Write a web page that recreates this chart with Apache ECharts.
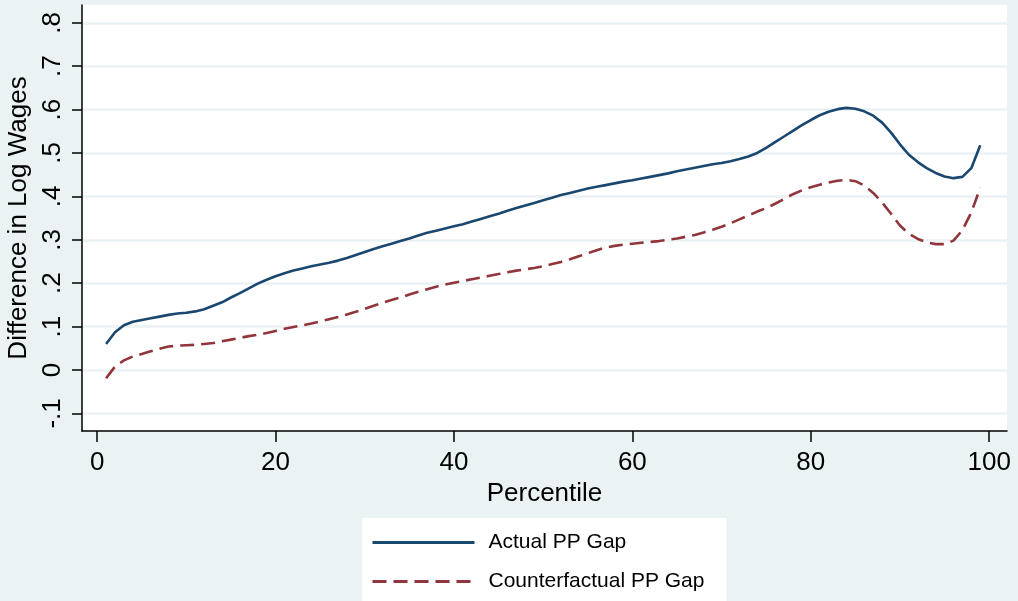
<!DOCTYPE html>
<html>
<head>
<meta charset="utf-8">
<script src="https://cdn.jsdelivr.net/npm/echarts@6/dist/echarts.min.js"></script>
<style>
html,body{margin:0;padding:0;background:#EAF2F3;}
#c{width:1018px;height:601px;}
</style>
</head>
<body>
<div id="c"></div>
<script>
const percentiles = [];
for (let p = 1; p <= 99; p++) percentiles.push(p);

const actualGap = [
0.060,0.087,0.103,0.111,0.115,0.119,0.123,0.127,0.130,0.132,
0.135,0.140,0.148,0.156,0.167,0.177,0.188,0.199,0.208,0.216,
0.223,0.229,0.234,0.239,0.243,0.247,0.252,0.258,0.265,0.272,
0.279,0.285,0.291,0.297,0.303,0.310,0.316,0.321,0.326,0.331,
0.336,0.342,0.348,0.354,0.360,0.367,0.373,0.379,0.385,0.391,
0.397,0.403,0.408,0.413,0.418,0.422,0.426,0.430,0.434,0.437,
0.441,0.445,0.449,0.453,0.458,0.462,0.466,0.470,0.474,0.477,
0.481,0.486,0.492,0.500,0.512,0.525,0.538,0.551,0.564,0.576,
0.587,0.595,0.601,0.604,0.602,0.596,0.586,0.570,0.547,0.520,
0.496,0.479,0.465,0.454,0.446,0.442,0.445,0.465,0.518
];

const counterfactualGap = [
-0.019,0.008,0.022,0.031,0.037,0.043,0.049,0.054,0.056,0.057,
0.058,0.060,0.062,0.066,0.070,0.074,0.078,0.081,0.085,0.090,
0.095,0.099,0.103,0.107,0.112,0.117,0.122,0.128,0.134,0.141,
0.148,0.155,0.161,0.167,0.174,0.180,0.186,0.192,0.197,0.201,
0.205,0.209,0.213,0.217,0.221,0.225,0.229,0.232,0.235,0.239,
0.244,0.249,0.255,0.262,0.269,0.276,0.282,0.286,0.289,0.291,
0.293,0.295,0.297,0.300,0.303,0.307,0.311,0.317,0.323,0.330,
0.338,0.347,0.356,0.365,0.373,0.383,0.394,0.405,0.414,0.421,
0.427,0.432,0.436,0.438,0.435,0.425,0.408,0.386,0.360,0.333,
0.314,0.302,0.294,0.290,0.290,0.298,0.322,0.363,0.420
];

const xTicks = [0, 20, 40, 60, 80, 100];
const yTicks = [-0.1, 0, 0.1, 0.2, 0.3, 0.4, 0.5, 0.6, 0.7, 0.8];
const seriesNames = ['Actual PP Gap', 'Counterfactual PP Gap'];

function fmtY(v) {
  const r = Math.round(v * 10) / 10;
  if (r === 0) return '0';
  let s = r.toFixed(1);
  return s.replace(/^(-?)0\./, '$1.');
}

const chart = echarts.init(document.getElementById('c'), null, {renderer: 'canvas'});
const font = 'Liberation Sans, Arial, sans-serif';
chart.setOption({
  backgroundColor: '#EAF2F3',
  animation: false,
  grid: {
    left: 82, right: 11, top: 5, bottom: 170,
    outerBoundsMode: 'none',
    containLabel: false,
    show: true, backgroundColor: '#ffffff', borderWidth: 0
  },
  legend: {
    left: 362, top: 518,
    width: 333, height: 120,
    orient: 'vertical',
    backgroundColor: '#ffffff',
    padding: [14, 22, 30, 9],
    itemWidth: 102, itemHeight: 20, itemGap: 18,
    data: seriesNames,
    itemStyle: {opacity: 0},
    lineStyle: {width: 3},
    textStyle: {fontFamily: font, fontSize: 21, lineHeight: 20, color: '#000', padding: [0, 0, 0, 9]}
  },
  xAxis: {
    type: 'value',
    min: -1.7, max: 102,
    name: 'Percentile',
    nameLocation: 'middle',
    nameGap: 37,
    nameTextStyle: {fontFamily: font, fontSize: 26, color: '#000'},
    axisLine: {show: true, onZero: false, lineStyle: {color: '#000', width: 1.5}},
    axisTick: {show: true, length: 11, customValues: xTicks, lineStyle: {color: '#000', width: 1.5}},
    axisLabel: {customValues: xTicks, fontFamily: font, fontSize: 26, color: '#000', margin: 19},
    splitLine: {show: false}
  },
  yAxis: {
    type: 'value',
    min: -0.1406, max: 0.841,
    name: 'Difference in Log Wages',
    nameLocation: 'middle',
    nameGap: 30,
    nameTextStyle: {fontFamily: font, fontSize: 26, color: '#000'},
    axisLine: {show: true, onZero: false, lineStyle: {color: '#000', width: 1.5}},
    axisTick: {show: true, length: 10, customValues: yTicks, lineStyle: {color: '#000', width: 1.5}},
    axisLabel: {customValues: yTicks, rotate: 90, formatter: fmtY, fontFamily: font, fontSize: 26, color: '#000', margin: 16},
    splitLine: {show: true, lineStyle: {color: '#EAF2F3', width: 2.5}}
  },
  series: [
    {
      name: seriesNames[0], type: 'line', showSymbol: false, symbol: 'none',
      data: percentiles.map((p, i) => [p, actualGap[i]]),
      lineStyle: {color: '#1A476F', width: 2.6},
      itemStyle: {color: '#1A476F'}
    },
    {
      name: seriesNames[1], type: 'line', showSymbol: false, symbol: 'none',
      data: percentiles.map((p, i) => [p, counterfactualGap[i]]),
      lineStyle: {color: '#90353B', width: 2.6, type: [14, 7]},
      itemStyle: {color: '#90353B'}
    }
  ]
});
</script>
</body>
</html>
